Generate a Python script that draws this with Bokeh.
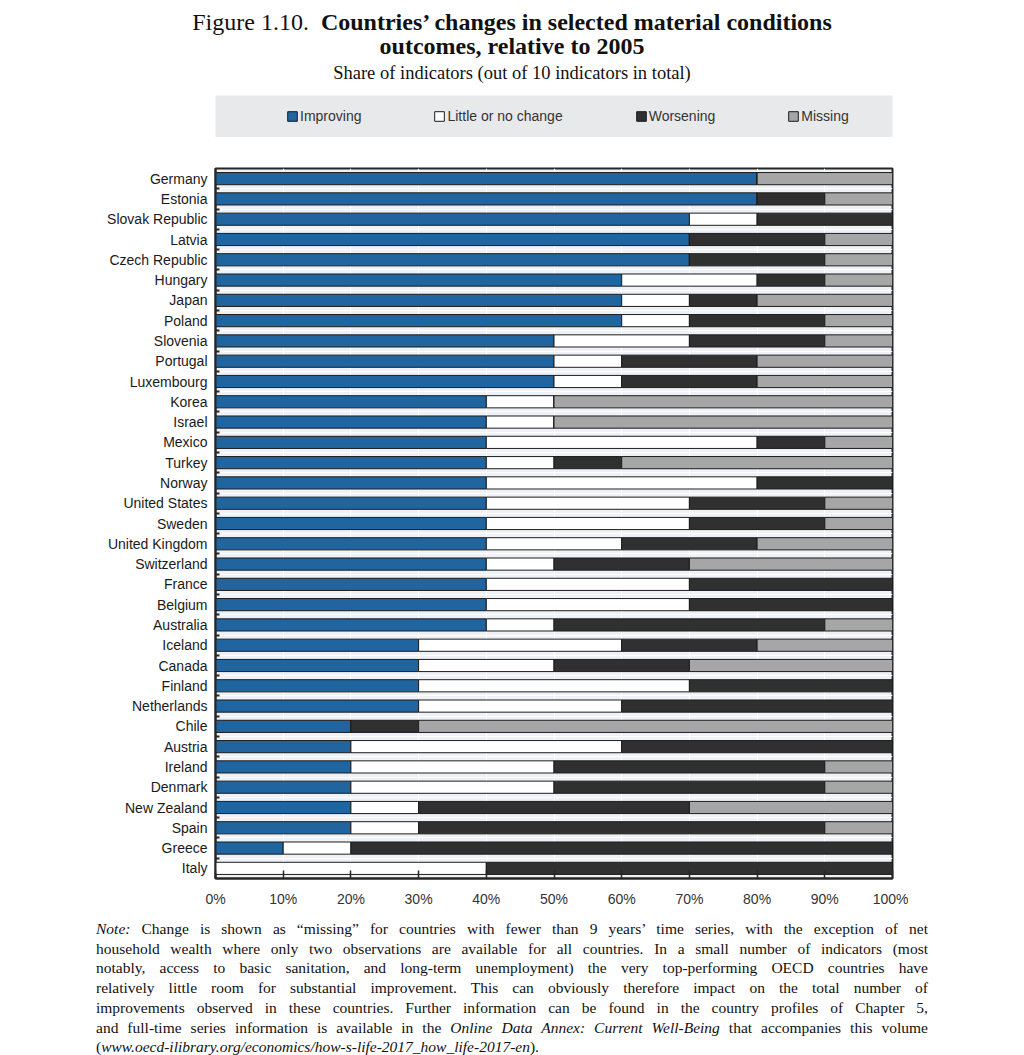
from bokeh.plotting import figure
from bokeh.models import (ColumnDataSource, FixedTicker, NumeralTickFormatter, Range1d,
                          Legend, LegendItem, Div)
from bokeh.layouts import column
from bokeh.embed import file_html
from bokeh.resources import INLINE

# ---------------- data (number of indicators out of 10) ----------------
countries = ["Germany", "Estonia", "Slovak Republic", "Latvia", "Czech Republic", "Hungary",
             "Japan", "Poland", "Slovenia", "Portugal", "Luxembourg", "Korea", "Israel",
             "Mexico", "Turkey", "Norway", "United States", "Sweden", "United Kingdom",
             "Switzerland", "France", "Belgium", "Australia", "Iceland", "Canada", "Finland",
             "Netherlands", "Chile", "Austria", "Ireland", "Denmark", "New Zealand", "Spain",
             "Greece", "Italy"]
improving = [8, 8, 7, 7, 7, 6, 6, 6, 5, 5, 5, 4, 4, 4, 4, 4, 4, 4, 4, 4, 4, 4, 4, 3, 3, 3, 3,
             2, 2, 2, 2, 2, 2, 1, 0]
little = [0, 0, 1, 0, 0, 2, 1, 1, 2, 1, 1, 1, 1, 4, 1, 4, 3, 3, 2, 1, 3, 3, 1, 3, 2, 4, 3,
          0, 4, 3, 3, 1, 1, 1, 4]
worsening = [0, 1, 2, 2, 2, 1, 1, 2, 2, 2, 2, 0, 0, 1, 1, 2, 2, 2, 2, 2, 3, 3, 4, 2, 2, 3, 4,
             1, 4, 4, 4, 4, 6, 8, 6]
missing = [2, 1, 0, 1, 1, 1, 2, 1, 1, 2, 2, 5, 5, 1, 4, 0, 1, 1, 2, 3, 0, 0, 1, 2, 3, 0, 0,
           7, 0, 1, 1, 3, 1, 0, 0]
total_indicators = 10
series_labels = ["Improving", "Little or no change", "Worsening", "Missing"]
series_colors = ["#20659f", "#ffffff", "#303030", "#a6a6a6"]
x_tick_values = [i / 10 for i in range(11)]

SANS = "'Liberation Sans', Arial, sans-serif"
SERIF = "'Liberation Serif', 'DejaVu Serif', serif"
DARK = "#262626"

n = len(countries)
ys = [n - 1 - i for i in range(n)]
stackers = ["imp", "lit", "wor", "mis"]
src = ColumnDataSource(dict(
    y=ys, name=countries,
    imp=[v / total_indicators for v in improving],
    lit=[v / total_indicators for v in little],
    wor=[v / total_indicators for v in worsening],
    mis=[v / total_indicators for v in missing],
))

# ---------------- main chart ----------------
p = figure(width=900, height=775, x_range=Range1d(0, 1), y_range=Range1d(-0.5, n - 0.5),
           toolbar_location=None, output_backend="svg",
           min_border_left=207, min_border_right=16, min_border_top=31, min_border_bottom=34,
           background_fill_color="#eef2f7", border_fill_color="white",
           outline_line_color=DARK, outline_line_width=2, margin=(0, 0, 0, 0))

p.hbar_stack(stackers, y="y", height=0.6, source=src,
             fill_color=series_colors, line_color="#1c1c1c", line_width=1)

boundaries = [k + 0.5 for k in range(n - 1)]
p.yaxis.ticker = FixedTicker(ticks=ys, minor_ticks=boundaries)
p.yaxis.major_label_overrides = {y: c for y, c in zip(ys, countries)}
p.yaxis.major_tick_line_color = None
p.yaxis.minor_tick_in = 4
p.yaxis.minor_tick_out = 0
p.yaxis.minor_tick_line_color = DARK
p.yaxis.minor_tick_line_width = 2
p.yaxis.major_label_standoff = 2
p.yaxis.major_label_text_font = SANS
p.yaxis.major_label_text_font_size = "14px"
p.yaxis.major_label_text_color = "#1a1a1a"

p.xaxis.ticker = FixedTicker(ticks=x_tick_values, minor_ticks=[])
p.xaxis.formatter = NumeralTickFormatter(format="0%")
p.xaxis.major_tick_in = 8
p.xaxis.major_tick_out = 0
p.xaxis.major_tick_line_color = DARK
p.xaxis.major_tick_line_width = 1.5
p.xaxis.minor_tick_line_color = None
p.xaxis.major_label_standoff = 12
p.xaxis.major_label_text_font = SANS
p.xaxis.major_label_text_font_size = "14px"
p.xaxis.major_label_text_color = "#333333"

for ax in (p.xaxis, p.yaxis):
    ax.axis_line_color = DARK
    ax.axis_line_width = 2

p.xgrid.ticker = FixedTicker(ticks=x_tick_values)
p.ygrid.ticker = FixedTicker(ticks=boundaries)
p.grid.grid_line_color = "white"
p.grid.grid_line_width = 1

# ---------------- legend strip (same series renderers, kept far out of view) ----------------
lg = figure(width=900, height=42, x_range=Range1d(0, 1), y_range=Range1d(1000, 1001),
            toolbar_location=None, output_backend="svg", x_axis_type=None, y_axis_type=None,
            min_border_left=207, min_border_right=16, min_border_top=0, min_border_bottom=0,
            background_fill_color="#e8e9eb", border_fill_color="white",
            outline_line_color=None, margin=(13, 0, 0, 0))
lg.grid.visible = False
lg_renderers = lg.hbar_stack(stackers, y="y", height=0.6, source=src,
                             fill_color=series_colors, line_color="#1c1c1c", line_width=1)
items = [LegendItem(label=lab, renderers=[r]) for lab, r in zip(series_labels, lg_renderers)]
legend = Legend(items=items, orientation="horizontal", location="left", padding=0,
                spacing=72, glyph_width=12, glyph_height=12, label_standoff=2,
                label_height=16, label_text_font=SANS, label_text_font_size="14px",
                label_text_color="#333333", background_fill_alpha=0, border_line_color=None,
                margin=71)
lg.add_layout(legend, "center")

# ---------------- texts ----------------
title_html = (
    f"<div style=\"width:1008px;font-family:{SERIF};text-align:center;color:#111;\">"
    "<div style=\"font-size:24px;line-height:24px;margin-top:2px;\">Figure 1.10.&nbsp; "
    "<b>Countries’ changes in selected material conditions<br>outcomes, relative to 2005</b></div>"
    "<div style=\"font-size:18.5px;line-height:20px;margin-top:5px;\">"
    "Share of indicators (out of 10 indicators in total)</div></div>"
)
title_div = Div(text=title_html, width=1008, height=74, margin=(0, 0, 0, 0))

note_lines = [
    "<i>Note:</i> Change is shown as “missing” for countries with fewer than 9 years’ time series, with the exception of net",
    "household wealth where only two observations are available for all countries. In a small number of indicators (most",
    "notably, access to basic sanitation, and long-term unemployment) the very top-performing OECD countries have",
    "relatively little room for substantial improvement. This can obviously therefore impact on the total number of",
    "improvements observed in these countries. Further information can be found in the country profiles of Chapter 5,",
    "and full-time series information is available in the <i>Online Data Annex: Current Well-Being</i> that accompanies this volume",
    "(<i>www.oecd-ilibrary.org/economics/how-s-life-2017_how_life-2017-en</i>).",
]
note_html = f"<div style=\"width:832px;font-family:{SERIF};font-size:15.5px;line-height:19.7px;color:#111;\">"
for i, line in enumerate(note_lines):
    last = "left" if i == len(note_lines) - 1 else "justify"
    note_html += (f"<div style=\"text-align:justify;text-align-last:{last};"
                  f"white-space:nowrap;\">{line}</div>")
note_html += "</div>"
note_div = Div(text=note_html, width=832, margin=(7, 0, 0, 88))

layout = column(title_div, lg, p, note_div, spacing=0, margin=(8, 0, 0, 8))
open("out.html", "w").write(file_html(layout, INLINE))
